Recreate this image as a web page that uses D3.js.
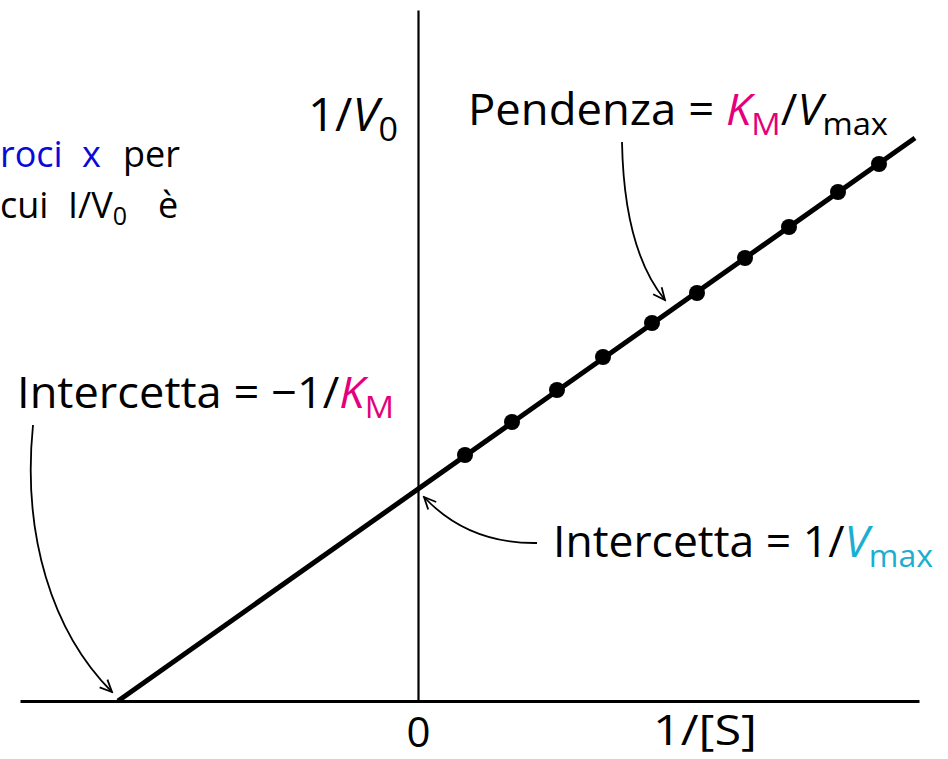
<!DOCTYPE html>
<html>
<head>
<meta charset="utf-8">
<script src="https://cdn.jsdelivr.net/npm/d3@7"></script>
<style>
  body { margin: 0; background: #fff; }
  svg { display: block; font-family: "Open Sans", "Noto Sans", sans-serif; }
</style>
</head>
<body>
<div class="chart"></div>
<script>
// Lineweaver-Burk plot, 1/[S] vs 1/V0 (arbitrary units)
var xDomain = [-3.98, 5.01];
var yDomain = [0, 6.91];
var xTicks = [0];
var lineX = [-3, 4.97];
var lineY = [0, 5.63];
var pointX = [0.47, 0.94, 1.39, 1.85, 2.34, 2.79, 3.27, 3.71, 4.20, 4.61];
var pointY = [2.46, 2.79, 3.11, 3.44, 3.78, 4.08, 4.43, 4.74, 5.09, 5.37];

var width = 948, height = 759;
var magenta = "#e4007c", cyan = "#1aaed0", blue = "#0a0ad8";

var svg = d3.select(".chart")
  .append("svg")
    .attr("width", width)
    .attr("height", height);

var x = d3.scaleLinear().domain(xDomain).range([20, 919]);
var y = d3.scaleLinear().domain(yDomain).range([701, 10]);

// arrowhead
svg.append("defs").append("marker")
    .attr("id", "head")
    .attr("viewBox", "-14 -8 16 16")
    .attr("refX", 0).attr("refY", 0)
    .attr("markerWidth", 16).attr("markerHeight", 16)
    .attr("markerUnits", "userSpaceOnUse")
    .attr("orient", "auto")
  .append("path")
    .attr("d", "M-12,-5.5 L0,0 L-12,5.5")
    .attr("fill", "none")
    .attr("stroke", "#000")
    .attr("stroke-width", 1.8);

// axes
var xaxis = d3.axisBottom(x).tickValues(xTicks).tickSize(0).tickSizeOuter(0).tickPadding(16)
    .tickFormat(d3.format("d"));
var gx = svg.append("g")
    .attr("class", "x axis")
    .attr("transform", "translate(0," + y(0) + ")")
    .call(xaxis);
gx.select(".domain").attr("stroke-width", 3.2);
gx.selectAll("text")
    .style("font-size", "42px")
    .style("font-family", "'Open Sans', sans-serif")
    .attr("fill", "#000");

var yaxis = d3.axisLeft(y).tickValues([]).tickSizeOuter(0);
var gy = svg.append("g")
    .attr("class", "y axis")
    .attr("transform", "translate(" + x(0) + ",0)")
    .call(yaxis);
gy.select(".domain").attr("stroke-width", 2.2);

// regression line
var lineData = d3.zip(lineX, lineY);
svg.append("path")
    .datum(lineData)
    .attr("fill", "none")
    .attr("stroke", "#000")
    .attr("stroke-width", 5)
    .attr("d", d3.line().x(function(d) { return x(d[0]); }).y(function(d) { return y(d[1]); }));

// data points
svg.append("g")
  .selectAll("circle")
  .data(d3.zip(pointX, pointY))
  .enter().append("circle")
    .attr("cx", function(d) { return x(d[0]); })
    .attr("cy", function(d) { return y(d[1]); })
    .attr("r", 8)
    .attr("fill", "#000");

// label helper: parts = [text, color, italic, subscript]
function label(px, py, size, parts, fitWidth) {
  var t = svg.append("text")
      .attr("x", px)
      .attr("y", py)
      .style("font-size", size + "px")
      .attr("fill", "#000");
  var sub = false;
  parts.forEach(function(p) {
    var s = t.append("tspan").text(p[0]).attr("fill", p[1] || "#000");
    if (p[2]) s.style("font-style", "italic");
    if (p[3] && !sub) { s.attr("dy", size * 0.22).style("font-size", (size * 0.72) + "px"); sub = true; }
    else if (p[3]) { s.style("font-size", (size * 0.72) + "px"); }
    else if (sub) { s.attr("dy", -size * 0.22); sub = false; }
  });
  if (fitWidth) t.attr("textLength", fitWidth).attr("lengthAdjust", "spacingAndGlyphs");
  return t;
}

// axis titles
label(308, 131, 45, [["1/"], ["V", null, true], ["0", null, false, true]], 90);
label(653, 745, 42, [["1/[S]"]], 104);

// annotations
label(468, 125, 44, [["Pendenza = "], ["K", magenta, true], ["M", magenta, false, true],
                     ["/"], ["V", null, true], ["max", null, false, true]], 420);
label(17, 408, 44, [["Intercetta = \u22121/"], ["K", magenta, true], ["M", magenta, false, true]], 377);
label(553, 557, 44, [["Intercetta = 1/"], ["V", cyan, true], ["max", cyan, false, true]], 380);

// arrows, anchored to the features they point at
var arrows = [
  // slope
  "M622,142 Q624,250 " + (x(2.47)) + "," + (y(3.99) - 2),
  // y-intercept
  "M537,543 Q468,544 " + (x(0) + 6) + "," + (y(lineY[0] + 2.12) + 8),
  // x-intercept
  "M33,425 C22,535 52,632 " + (x(lineX[0]) - 6) + "," + (y(0) - 9)
];
svg.append("g")
  .selectAll("path")
  .data(arrows)
  .enter().append("path")
    .attr("d", function(d) { return d; })
    .attr("fill", "none")
    .attr("stroke", "#000")
    .attr("stroke-width", 1.8)
    .attr("marker-end", "url(#head)");

// cut-off side text on the left
var side = svg.append("g").style("font-size", "36px");
side.append("text").attr("x", 0).attr("y", 167).attr("fill", blue).text("roci");
side.append("text").attr("x", 82).attr("y", 167).attr("fill", blue).text("x");
side.append("text").attr("x", 123).attr("y", 167).attr("fill", "#000").text("per");
side.append("text").attr("x", 0).attr("y", 218).attr("fill", "#000").text("cui");
var iv = side.append("text").attr("x", 68).attr("y", 218).attr("fill", "#000");
iv.append("tspan").text("I/V");
iv.append("tspan").text("0").attr("dy", 7).style("font-size", "25px");
side.append("text").attr("x", 158).attr("y", 218).attr("fill", "#000").text("\u00e8");
</script>
</body>
</html>
